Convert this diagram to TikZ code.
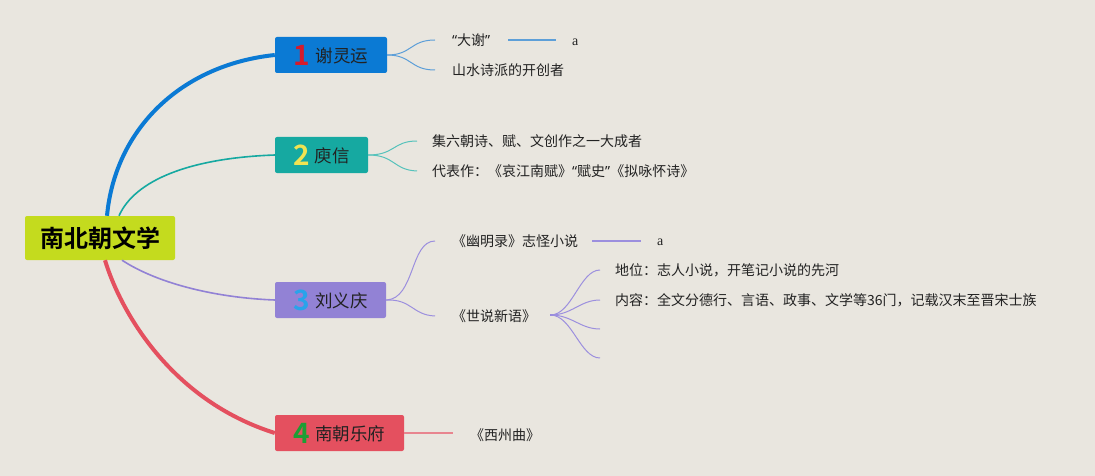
\documentclass[tikz,border=0pt]{standalone}
\usepackage{fontspec}
\setmainfont{Noto Sans CJK SC}[BoldFont={Noto Sans CJK SC Bold}]
\newfontfamily\serifa{Liberation Serif}
\newfontfamily\latq{Noto Sans}
\usetikzlibrary{calc}
\definecolor{bg}{HTML}{E9E6DF}
\definecolor{rootc}{HTML}{C4DB1E}
\definecolor{blueB}{HTML}{0B7AD4}
\definecolor{blueT}{HTML}{5D9FD8}
\definecolor{tealB}{HTML}{16A9A1}
\definecolor{tealT}{HTML}{56C2BB}
\definecolor{purpB}{HTML}{9282D5}
\definecolor{purpT}{HTML}{9C8FDE}
\definecolor{redB}{HTML}{E4505F}
\definecolor{redT}{HTML}{E8858F}
\definecolor{dA}{HTML}{D51B2B}
\definecolor{dB}{HTML}{F0E352}
\definecolor{dC}{HTML}{29A3EA}
\definecolor{dD}{HTML}{1D9E34}
\definecolor{txt}{HTML}{222222}
\tikzset{
  branch/.style={rectangle, rounded corners=2pt, minimum height=36pt, inner sep=0pt, text=txt},
  leaf/.style={anchor=west, inner sep=0pt, text=txt, font=\fontsize{14}{16}\selectfont},
  aleaf/.style={anchor=west, inner sep=0pt, text=txt, font=\serifa\fontsize{14}{16}\selectfont},
  thinline/.style={line width=1pt},
}
\newcommand{\bnum}[2]{\raisebox{-3pt}{\fontsize{28}{28}\selectfont\bfseries\color{#1}#2}\hspace{5pt}}
\newcommand{\btxt}[1]{{\fontsize{17.5}{20}\selectfont #1}}
\newcommand{\myLq}{{\latq “}}
\newcommand{\myRq}{{\latq ”}}
\begin{document}
\begin{tikzpicture}[x=1pt,y=-1pt]
\fill[bg] (0,0) rectangle (1095,476);
\useasboundingbox (0,0) rectangle (1095,476);

% root
\node[rectangle, rounded corners=2pt, fill=rootc, minimum width=150pt, minimum height=44pt, inner sep=0pt,
      font=\fontsize{24}{25}\selectfont\bfseries, text=black] (root) at (100,238) {南北朝文学};

% branches
\node[branch, fill=blueB, minimum width=112pt] (n1) at (331,55) {\bnum{dA}{1}\btxt{谢灵运}};
\node[branch, fill=tealB, minimum width=93pt] (n2) at (321.5,155) {\bnum{dB}{2}\btxt{庾信}};
\node[branch, fill=purpB, minimum width=111pt] (n3) at (330.5,300) {\bnum{dC}{3}\btxt{刘义庆}};
\node[branch, fill=redB, minimum width=129pt] (n4) at (339.5,433) {\bnum{dD}{4}\btxt{南朝乐府}};

% main connectors
\draw[blueB, line width=4pt] ($(root.north)+(7,0)$) .. controls (115,130) and (180,65) .. (n1.west);
\draw[tealB, line width=1.6pt] ($(root.north)+(19,0)$) .. controls (135,180) and (190,158) .. (n2.west);
\draw[purpB, line width=1.6pt] ($(root.south)+(22,0)$) .. controls (160,285) and (220,298) .. (n3.west);
\draw[redB, line width=4pt] ($(root.south)+(5,0)$) .. controls (120,310) and (170,400) .. (n4.west);

% leaves of 1
\node[leaf] (c11) at (452,40) {\myLq 大谢\myRq};
\node[leaf] (c12) at (452,70) {山水诗派的开创者};
\node[aleaf] (a1) at (572,42) {a};
\draw[blueT, thinline] (n1.east) .. controls (412,55) and (410,40) .. ([xshift=-17pt]c11.west);
\draw[blueT, thinline] (n1.east) .. controls (412,55) and (410,70) .. ([xshift=-17pt]c12.west);
\draw[blueT, line width=1.3pt] ([xshift=18pt]c11.east) -- ([xshift=-16pt]a1.west |- c11.east);

% leaves of 2
\node[leaf] (c21) at (432,141) {集六朝诗、赋、文创作之一大成者};
\node[leaf] (c22) at (432,171) {代表作：《哀江南赋》\myLq 赋史\myRq《拟咏怀诗》};
\draw[tealT, thinline] (n2.east) .. controls (395,155) and (393,141) .. ([xshift=-15pt]c21.west);
\draw[tealT, thinline] (n2.east) .. controls (395,155) and (393,170) .. ([xshift=-15pt]c22.west);

% leaves of 3
\node[leaf] (c31) at (452,241) {《幽明录》志怪小说};
\node[leaf] (c32) at (452,316) {《世说新语》};
\node[aleaf] (a3) at (657,242) {a};
\draw[purpT, thinline] (n3.east) .. controls (415,299) and (410,241) .. ([xshift=-17pt]c31.west);
\draw[purpT, thinline] (n3.east) .. controls (412,299) and (412,315) .. ([xshift=-17pt]c32.west);
\draw[purpT, line width=1.3pt] ([xshift=14pt]c31.east) -- ([xshift=-16pt]a3.west |- c31.east);

\node[leaf] (c321) at (615,270) {地位：志人小说，开笔记小说的先河};
\node[leaf] (c322) at (615,300) {内容：全文分德行、言语、政事、文学等36门，记载汉末至晋宋士族};
\coordinate (e3) at (600,329);
\coordinate (e4) at (600,358);
\coordinate (f32) at ($(c32.east)+(14,-1)$);
\draw[purpB, line width=2.2pt] (f32) -- ++(7,0);
\draw[purpT, thinline] (f32) .. controls (572,315) and (580,270) .. ([xshift=-15pt]c321.west);
\draw[purpT, thinline] (f32) .. controls (572,315) and (580,300) .. ([xshift=-15pt]c322.west);
\draw[purpT, thinline] (f32) .. controls (572,315) and (580,329) .. (e3);
\draw[purpT, thinline] (f32) .. controls (572,315) and (580,358) .. (e4);

% leaf of 4
\node[leaf] (c41) at (470,435) {《西州曲》};
\draw[redT, line width=1.3pt] (n4.east) -- ([xshift=-17pt]c41.west |- n4.east);
\end{tikzpicture}
\end{document}
